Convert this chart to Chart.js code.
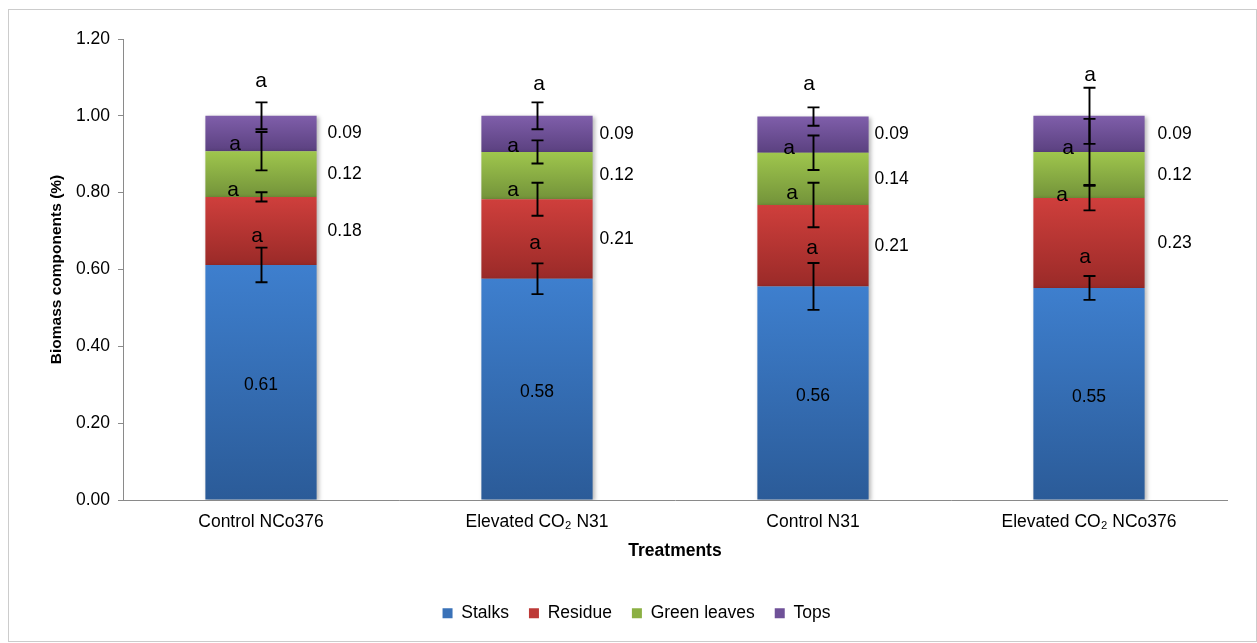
<!DOCTYPE html>
<html>
<head>
<meta charset="utf-8">
<script src="https://cdn.jsdelivr.net/npm/chart.js@4/dist/chart.umd.min.js"></script>
<style>
  html, body { margin: 0; padding: 0; background: #fff; }
  #wrap { width: 1257px; height: 643px; }
</style>
</head>
<body>
<div id="wrap"><canvas id="chart" width="1257" height="643"></canvas></div>
<script>
// Treatments on the category axis
const treatments = ['Control NCo376', 'Elevated CO\u2082 N31', 'Control N31', 'Elevated CO\u2082 NCo376'];

// Biomass fractions per component (stacked bottom to top)
const stalks      = [0.612, 0.576, 0.556, 0.552];
const residue     = [0.177, 0.207, 0.212, 0.234];
const greenLeaves = [0.119, 0.123, 0.136, 0.120];
const tops        = [0.092, 0.094, 0.094, 0.094];

// Standard errors (± around the top of each component)
const stalksErr      = [0.045, 0.040, 0.061, 0.031];
const residueErr     = [0.012, 0.043, 0.058, 0.032];
const greenLeavesErr = [0.050, 0.030, 0.045, 0.086];
const topsErr        = [0.035, 0.035, 0.024, 0.073];

// Significance letters per component
const stalksSig      = ['a', 'a', 'a', 'a'];
const residueSig     = ['a', 'a', 'a', 'a'];
const greenLeavesSig = ['a', 'a', 'a', 'a'];
const topsSig        = ['a', 'a', 'a', 'a'];

// Axis ticks
const yTicks = [0, 0.2, 0.4, 0.6, 0.8, 1.0, 1.2];

const seriesNames = ['Stalks', 'Residue', 'Green leaves', 'Tops'];
const seriesData  = [stalks, residue, greenLeaves, tops];
const seriesErr   = [stalksErr, residueErr, greenLeavesErr, topsErr];
const seriesSig   = [stalksSig, residueSig, greenLeavesSig, topsSig];

// ---- styling ----
const FONT = "'Liberation Sans', Arial, Helvetica, sans-serif";
const seriesStyle = [
  { top: '#3e7fce', bottom: '#2b5b98', legend: '#3a72b8' },
  { top: '#cf3f3c', bottom: '#9a2a28', legend: '#bd3a37' },
  { top: '#9fc64d', bottom: '#73933a', legend: '#8bb043' },
  { top: '#7f5eaa', bottom: '#5b4180', legend: '#6f5198' }
];
// where the significance letters sit: value-axis position and horizontal shift (px)
const letterPlacement = [
  { v: [0.687, 0.669, 0.656, 0.633], dx: [-4, -2, -1, -4] },      // stalks
  { v: [0.807, 0.807, 0.799, 0.794], dx: [-28, -24, -21, -27] },   // residue
  { v: [0.927, 0.921, 0.916, 0.916], dx: [-26, -24, -24, -21] },   // green leaves
  { v: [1.091, 1.083, 1.083, 1.106], dx: [0, 2, -4, 1] }           // tops
];
// gap between the bar edge and the side value labels, per treatment
const sideLabelGap = [11, 7, 6, 13];

function stackBase(seriesIndex, j) {
  let s = 0;
  for (let k = 0; k < seriesIndex; k++) s += seriesData[k][j];
  return s;
}

function segmentFill(seriesIndex) {
  return (ctx) => {
    const st = seriesStyle[seriesIndex];
    const chart = ctx.chart;
    if (ctx.type !== 'data' || !chart.chartArea || !chart.scales.y) return st.legend;
    const y = chart.scales.y;
    const j = ctx.dataIndex;
    const base = stackBase(seriesIndex, j);
    const top = y.getPixelForValue(base + seriesData[seriesIndex][j]);
    const bottom = y.getPixelForValue(base);
    if (!isFinite(top) || !isFinite(bottom) || Math.abs(bottom - top) < 1) return st.legend;
    const g = chart.ctx.createLinearGradient(0, top, 0, bottom);
    g.addColorStop(0, st.top);
    g.addColorStop(1, st.bottom);
    return g;
  };
}

// frame, bar shadow, error bars, value labels and letters
const decorations = {
  id: 'decorations',
  beforeDraw(chart) {
    const c = chart.ctx;
    c.save();
    c.fillStyle = '#ffffff';
    c.fillRect(0, 0, chart.width, chart.height);
    c.strokeStyle = '#cccccc';
    c.lineWidth = 1;
    c.strokeRect(8.5, 9.5, 1248, 632);
    c.restore();
  },
  afterLayout(chart) {
    // legend block sits a little right of centre
    if (chart.legend) { chart.legend.left += 23; chart.legend.right += 23; }
  },
  beforeDatasetsDraw(chart) {
    const c = chart.ctx;
    c.save();
    c.shadowColor = 'rgba(0,0,0,0.28)';
    c.shadowBlur = 4;
    c.shadowOffsetX = 2;
    c.shadowOffsetY = 1;
  },
  afterDatasetsDraw(chart) {
    const c = chart.ctx;
    c.restore();
    const y = chart.scales.y;

    // error bars
    c.save();
    c.strokeStyle = '#000';
    c.lineWidth = 1.9;
    seriesData.forEach((vals, i) => {
      const meta = chart.getDatasetMeta(i);
      vals.forEach((v, j) => {
        const bar = meta.data[j];
        const topVal = stackBase(i, j) + v;
        const e = seriesErr[i][j];
        const x = Math.round(bar.x) + 0.5;
        const y1 = y.getPixelForValue(topVal + e);
        const y2 = y.getPixelForValue(topVal - e);
        c.beginPath();
        c.moveTo(x, y1); c.lineTo(x, y2);
        c.moveTo(x - 6, y1); c.lineTo(x + 6, y1);
        c.moveTo(x - 6, y2); c.lineTo(x + 6, y2);
        c.stroke();
      });
    });
    c.restore();

    // value labels
    c.save();
    c.fillStyle = '#000';
    c.font = '17.5px ' + FONT;
    c.textBaseline = 'middle';
    seriesData.forEach((vals, i) => {
      const meta = chart.getDatasetMeta(i);
      vals.forEach((v, j) => {
        const bar = meta.data[j];
        const mid = y.getPixelForValue(stackBase(i, j) + v / 2);
        const text = v.toFixed(2);
        if (i === 0) {
          c.textAlign = 'center';
          c.fillText(text, bar.x, mid + 3);
        } else {
          c.textAlign = 'left';
          c.fillText(text, bar.x + bar.width / 2 + sideLabelGap[j], mid);
        }
      });
    });
    c.restore();

    // significance letters
    c.save();
    c.fillStyle = '#000';
    c.font = '21px ' + FONT;
    c.textAlign = 'center';
    c.textBaseline = 'middle';
    seriesSig.forEach((sig, i) => {
      const meta = chart.getDatasetMeta(i);
      sig.forEach((s, j) => {
        const bar = meta.data[j];
        const p = letterPlacement[i];
        c.fillText(s, bar.x + p.dx[j], y.getPixelForValue(p.v[j]));
      });
    });
    c.restore();
  }
};

const chart = new Chart(document.getElementById('chart'), {
  type: 'bar',
  data: {
    labels: treatments,
    datasets: seriesData.map((d, i) => ({
      label: seriesNames[i],
      data: d,
      backgroundColor: segmentFill(i),
      borderWidth: 0,
      categoryPercentage: 1.0,
      barPercentage: 0.403
    }))
  },
  options: {
    responsive: false,
    animation: false,
    layout: { padding: { left: 0, top: 39, right: 30, bottom: 11 } },
    plugins: {
      tooltip: { enabled: false },
      legend: {
        position: 'bottom',
        labels: {
          boxWidth: 10,
          boxHeight: 10,
          padding: 20,
          color: '#000',
          font: { family: FONT, size: 17.5 },
          generateLabels: (ch) => ch.data.datasets.map((ds, i) => ({
            text: ds.label,
            fillStyle: seriesStyle[i].legend,
            strokeStyle: seriesStyle[i].legend,
            lineWidth: 0,
            hidden: false,
            datasetIndex: i,
            fontColor: '#000'
          }))
        }
      }
    },
    scales: {
      x: {
        stacked: true,
        grid: { display: false, drawTicks: false },
        border: { display: true, color: '#8a8a8a', width: 1 },
        ticks: { color: '#000', font: { family: FONT, size: 17.5 }, padding: 12, maxRotation: 0, autoSkip: false },
        title: {
          display: true,
          text: 'Treatments',
          color: '#000',
          font: { family: FONT, size: 17.5, weight: 'bold' },
          padding: { top: 0, bottom: 23 }
        },
        afterFit(scale) { scale.height = 84.5; }
      },
      y: {
        stacked: true,
        min: 0,
        max: 1.2,
        afterBuildTicks(scale) { scale.ticks = yTicks.map(v => ({ value: v })); },
        grid: { drawOnChartArea: false, drawTicks: true, tickLength: 5, color: '#8a8a8a' },
        border: { display: true, color: '#8a8a8a', width: 1 },
        ticks: {
          color: '#000',
          font: { family: FONT, size: 17.5 },
          padding: 8,
          callback: (v) => Number(v).toFixed(2)
        },
        title: {
          display: true,
          text: 'Biomass components (%)',
          color: '#000',
          font: { family: FONT, size: 15.5, weight: 'bold' },
          padding: { top: 47, bottom: 0 }
        },
        afterFit(scale) { scale.width = 123; }
      }
    }
  },
  plugins: [decorations]
});
</script>
</body>
</html>
